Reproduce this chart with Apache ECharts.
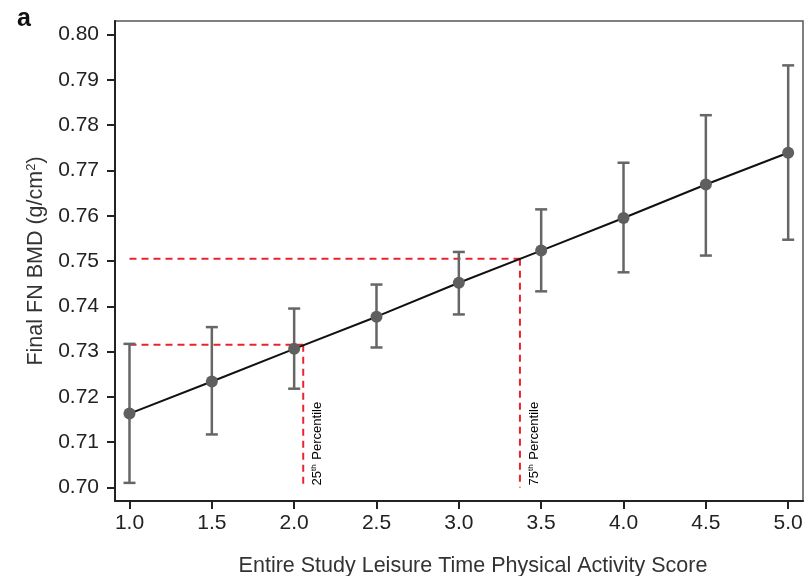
<!DOCTYPE html>
<html>
<head>
<meta charset="utf-8">
<script src="https://cdn.jsdelivr.net/npm/echarts@6/dist/echarts.min.js"></script>
<style>
  html, body { margin: 0; padding: 0; background: #fff; }
  #chart { width: 805px; height: 576px; }
</style>
</head>
<body>
<div id="chart"></div>
<script>
// Physical activity score vs. predicted femoral-neck BMD with 95% CI
const scores = [1.0, 1.5, 2.0, 2.5, 3.0, 3.5, 4.0, 4.5, 5.0];
const bmdMean = [0.7163, 0.7234, 0.7306, 0.7377, 0.7452, 0.7523, 0.7595, 0.7669, 0.7739];
const bmdLower = [0.7010, 0.7117, 0.7218, 0.7309, 0.7382, 0.7433, 0.7475, 0.7512, 0.7547];
const bmdUpper = [0.7317, 0.7354, 0.7395, 0.7448, 0.7520, 0.7614, 0.7717, 0.7822, 0.7932];

const xTicks = [1.0, 1.5, 2.0, 2.5, 3.0, 3.5, 4.0, 4.5, 5.0];
const yTicks = [0.70, 0.71, 0.72, 0.73, 0.74, 0.75, 0.76, 0.77, 0.78, 0.79, 0.80];

// Percentile reference lines: [score, BMD, label]
const percentileScore = [2.055, 3.371];
const percentileBmd = [0.7315, 0.7505];
const percentileLabel = ['25', '75'];
const refStartScore = 1.0;
const refFloorBmd = 0.70;

const chart = echarts.init(document.getElementById('chart'));

const errData = scores.map((x, i) => [x, bmdLower[i], bmdUpper[i]]);
const meanData = scores.map((x, i) => [x, bmdMean[i]]);
const pctData = percentileScore.map((x, i) => [x, percentileBmd[i], percentileLabel[i]]);

const font = 'Liberation Sans, Arial, sans-serif';

chart.setOption({
  animation: false,
  title: {
    text: 'a', left: 12, top: 2,
    textStyle: { fontFamily: font, fontSize: 25, fontWeight: 'bold', color: '#111' }
  },
  grid: {
    left: 115, top: 21, right: 2, bottom: 75,
    outerBoundsMode: 'none',
    containLabel: false,
    show: true, borderColor: '#555', borderWidth: 1.5, backgroundColor: '#fff'
  },
  xAxis: {
    type: 'value', min: 0.912, max: 5.09,
    name: 'Entire Study Leisure Time Physical Activity Score',
    nameLocation: 'middle', nameGap: 54,
    nameTextStyle: { fontFamily: font, fontSize: 21.5, color: '#333', padding: [0, 0, 0, 28] },
    axisLine: { show: true, onZero: false, lineStyle: { color: '#222', width: 2 } },
    axisTick: { show: true, customValues: xTicks, length: 8, lineStyle: { color: '#222', width: 2 } },
    axisLabel: {
      customValues: xTicks, margin: 12,
      formatter: v => v.toFixed(1),
      fontFamily: font, fontSize: 21, color: '#222'
    },
    splitLine: { show: false }
  },
  yAxis: {
    type: 'value', min: 0.697, max: 0.803,
    name: 'Final FN BMD (g/cm{sup|2})',
    nameLocation: 'middle', nameGap: 66,
    nameTextStyle: {
      fontFamily: font, fontSize: 21.5, color: '#333',
      rich: { sup: { fontFamily: font, fontSize: 13, color: '#333', verticalAlign: 'top', padding: [0, 0, 9, 0] } }
    },
    axisLine: { show: true, onZero: false, lineStyle: { color: '#222', width: 2 } },
    axisTick: { show: true, customValues: yTicks, length: 8, lineStyle: { color: '#222', width: 2 } },
    axisLabel: {
      customValues: yTicks, margin: 16,
      formatter: v => v.toFixed(2),
      fontFamily: font, fontSize: 21, color: '#222'
    },
    splitLine: { show: false }
  },
  series: [
    {
      // dashed percentile guides and their labels
      type: 'custom',
      data: pctData,
      z: 1,
      renderItem: function (params, api) {
        const x = api.value(0), y = api.value(1);
        const pStart = api.coord([refStartScore, y]);
        const pCorner = api.coord([x, y]);
        const pFloor = api.coord([x, refFloorBmd]);
        const dash = { stroke: '#e8252d', lineWidth: 2, lineDash: [7, 5] };
        const lab = percentileLabel[params.dataIndex];
        return {
          type: 'group',
          children: [
            { type: 'line', shape: { x1: pStart[0], y1: pStart[1], x2: pCorner[0], y2: pCorner[1] }, style: dash },
            { type: 'line', shape: { x1: pCorner[0], y1: pCorner[1], x2: pFloor[0], y2: pFloor[1] }, style: dash },
            {
              type: 'text',
              x: pFloor[0] + 7, y: pFloor[1] - 2,
              rotation: Math.PI / 2,
              style: {
                text: '{n|' + lab + '}{s|th}{n| Percentile}',
                align: 'left', verticalAlign: 'top',
                rich: {
                  n: { fontFamily: font, fontSize: 13, color: '#333' },
                  s: { fontFamily: font, fontSize: 8, color: '#333', verticalAlign: 'top', padding: [0, 1, 6, 0] }
                }
              }
            }
          ]
        };
      }
    },
    {
      // confidence interval bars
      type: 'custom',
      data: errData,
      z: 2,
      renderItem: function (params, api) {
        const lo = api.coord([api.value(0), api.value(1)]);
        const hi = api.coord([api.value(0), api.value(2)]);
        const w = 6;
        const st = { stroke: '#666', lineWidth: 2.5 };
        return {
          type: 'group',
          children: [
            { type: 'line', shape: { x1: lo[0], y1: lo[1], x2: hi[0], y2: hi[1] }, style: st },
            { type: 'line', shape: { x1: lo[0] - w, y1: lo[1], x2: lo[0] + w, y2: lo[1] }, style: st },
            { type: 'line', shape: { x1: hi[0] - w, y1: hi[1], x2: hi[0] + w, y2: hi[1] }, style: st }
          ]
        };
      }
    },
    {
      // fitted trend through the predicted means
      type: 'line',
      data: meanData,
      showSymbol: false,
      symbol: 'none',
      z: 3,
      lineStyle: { color: '#111', width: 2 }
    },
    {
      type: 'scatter',
      data: meanData,
      symbol: 'circle',
      symbolSize: 12,
      z: 4,
      itemStyle: { color: '#5f5f5f', opacity: 1 }
    }
  ]
});
</script>
</body>
</html>
